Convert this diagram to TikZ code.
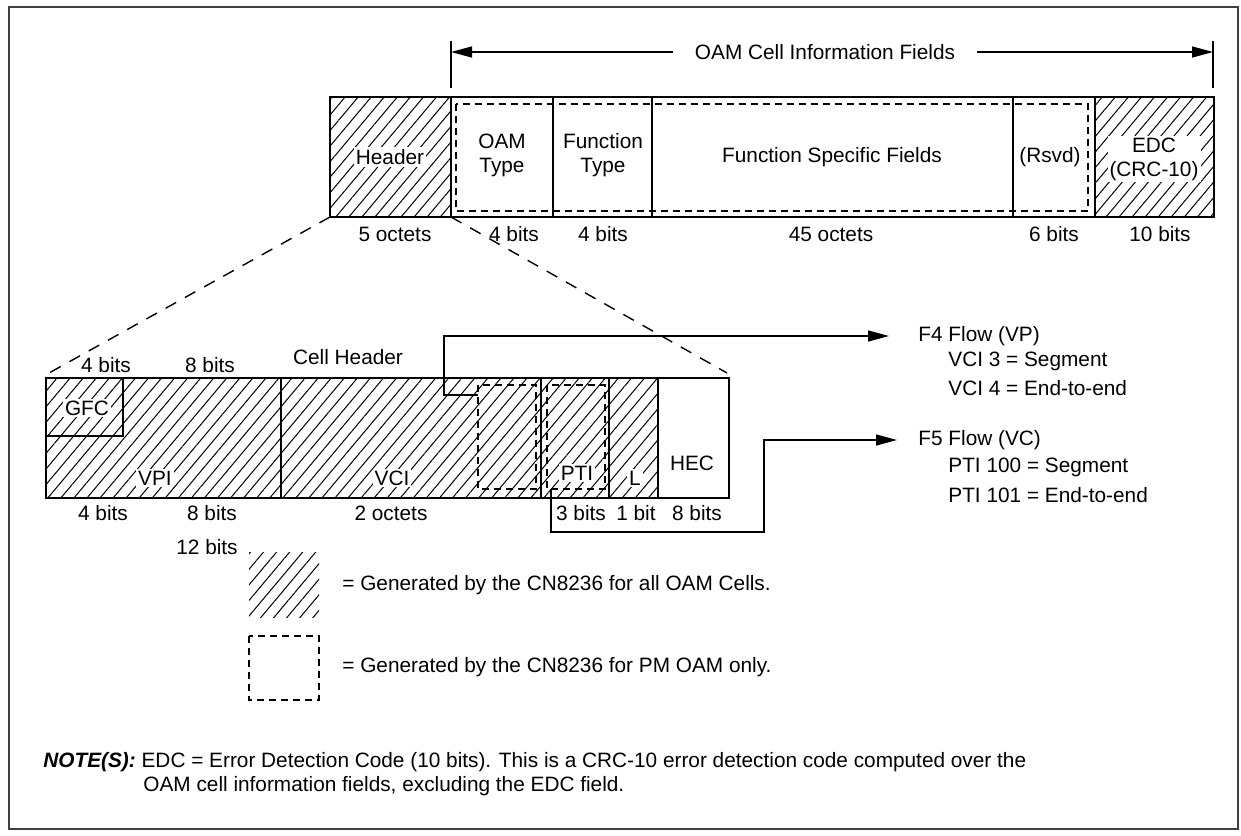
\documentclass[tikz,border=0pt]{standalone}
\usepackage{fontspec}
\setmainfont{Liberation Sans}
\usetikzlibrary{arrows.meta}
\usetikzlibrary{patterns.meta}
\usetikzlibrary{positioning}
\tikzstyle{hatch}=[pattern={Lines[angle=50,distance=5pt,line width=0.5pt]}]
\tikzstyle{outline}=[draw=black,line width=1.4pt]
\tikzstyle{divider}=[draw=black,line width=0.9pt]
\tikzstyle{pmbox}=[draw=black,line width=0.8pt,dash pattern=on 3.5pt off 2.5pt]
\tikzstyle{zoomline}=[draw=black,line width=0.7pt,dash pattern=on 6pt off 5pt]
\tikzstyle{wire}=[draw=black,line width=0.7pt]
\tikzstyle{arr}=[-{Triangle[length=10.5pt,width=5.5pt]},draw=black,line width=0.7pt]
\tikzstyle{txt}=[inner sep=0pt,align=center]
\tikzstyle{htxt}=[fill=white,inner sep=1pt,align=center]

\begin{document}
\begin{tikzpicture}[x=0.5pt,y=-0.5pt,font=\fontsize{10.4}{12}\selectfont]
  \useasboundingbox (0,0) rectangle (1241,835);
  \draw[line width=0.7pt,black!75] (9,7) rectangle (1238,829);

  % OAM cell
  \draw[wire] (451,41) -- (451,88);
  \draw[wire] (1213,41) -- (1213,88);
  \coordinate (infoL) at (451,52);
  \coordinate (infoR) at (1213,52);
  \node[txt,inner xsep=11pt] (info) at (825,52) {OAM Cell Information Fields};
  \draw[arr] (info) -- (infoL);
  \draw[arr] (info) -- (infoR);

  \fill[hatch] (330,97) rectangle (451,217);
  \fill[hatch] (1095,97) rectangle (1214,217);
  \draw[pmbox] (456,104) rectangle (1088,211);
  \foreach \x in {451,553,652,1013,1095}
    \draw[divider] (\x,97) -- (\x,217);
  \draw[outline] (330,97) rectangle (1214,217);
  \coordinate (hdrSW) at (330,217);
  \coordinate (hdrSE) at (451,217);

  \node[htxt] (hdr) at (390,157) {Header};
  \node[txt] (oamtype) at (502,155) {OAM\\Type};
  \node[txt] (fntype) at (603,155) {Function\\Type};
  \node[txt] (fsf) at (832,157) {Function Specific Fields};
  \node[txt] (rsvd) at (1050,157) {(Rsvd)};
  \node[htxt] (edc) at (1154,159) {EDC\\(CRC-10)};

  \node[txt] (szhdr) at (395,234) {5 octets};
  \node[txt] (szoam) at (514,234) {4 bits};
  \node[txt] (szfn) at (603,234) {4 bits};
  \node[txt] (szfsf) at (831,234) {45 octets};
  \node[txt] (szrsvd) at (1054,234) {6 bits};
  \node[txt] (szedc) at (1160,234) {10 bits};

  % cell header
  \fill[hatch] (46,378) rectangle (658,498);
  \draw[pmbox] (478,385) rectangle (536,489);
  \draw[pmbox] (547,385) rectangle (605,489);
  \foreach \x in {281,541,609,658}
    \draw[divider] (\x,378) -- (\x,498);
  \draw[outline] (46,378) rectangle (123,436);
  \draw[outline] (46,378) rectangle (729,498);
  \coordinate (chNW) at (49,373);
  \coordinate (chNE) at (727,373);
  \coordinate (vcipm) at (478,395);
  \coordinate (ptipm) at (551,489);

  \draw[zoomline] (hdrSW) -- (chNW);
  \draw[zoomline] (hdrSE) -- (chNE);

  \node[htxt] (gfc) at (87,408) {GFC};
  \node[htxt] (vpi) at (155,478) {VPI};
  \node[htxt] (vci) at (392,478) {VCI};
  \node[htxt] (pti) at (577,473) {PTI};
  \node[htxt] (clp) at (635,478) {L};
  \node[txt] (hec) at (692,463) {HEC};

  \node[txt] (szgfc) at (106,365) {4 bits};
  \node[txt] (szvpi) at (210,365) {8 bits};
  \node[txt] (cellhdr) at (348,357) {Cell Header};
  \node[txt] (szgfcb) at (103,513) {4 bits};
  \node[txt] (szvpib) at (212,513) {8 bits};
  \node[txt] (szvci) at (391,513) {2 octets};
  \node[txt] (szpti) at (581,513) {3 bits};
  \node[txt] (szclp) at (636,513) {1 bit};
  \node[txt] (szhec) at (697,513) {8 bits};
  \node[txt] (sznni) at (207,547) {12 bits};

  % flows
  \node[txt,anchor=west] (f4) at (918,336) {F4 Flow (VP)};
  \node[txt,anchor=west] (f4seg) at (948,361) {VCI 3 = Segment};
  \node[txt,anchor=west] (f4e2e) at (948,388) {VCI 4 = End-to-end};
  \node[txt,anchor=west] (f5) at (918,440) {F5 Flow (VC)};
  \node[txt,anchor=west] (f5seg) at (948,467) {PTI 100 = Segment};
  \node[txt,anchor=west] (f5e2e) at (948,495) {PTI 101 = End-to-end};
  \draw[arr] (vcipm) -- (444,395) |- ([xshift=-14.5pt]f4.west);
  \draw[arr] (ptipm) -- (551,532) -- (764,532) |- ([xshift=-10.5pt]f5.west);

  % key
  \fill[hatch] (249,552) rectangle (319,617);
  \draw[pmbox] (249,636) rectangle (319,700);
  \node[txt,anchor=west] (keyall) at (342,585) {= Generated by the CN8236 for all OAM Cells.};
  \node[txt,anchor=west] (keypm) at (342,667) {= Generated by the CN8236 for PM OAM only.};

  \node[txt,anchor=west] (note) at (43,762) {\textbf{\textit{NOTE(S):}} EDC = Error Detection Code (10 bits). This is a CRC-10 error detection code computed over the};
  \node[txt,anchor=west] (note2) at (143,786) {OAM cell information fields, excluding the EDC field.};
\end{tikzpicture}
\end{document}
